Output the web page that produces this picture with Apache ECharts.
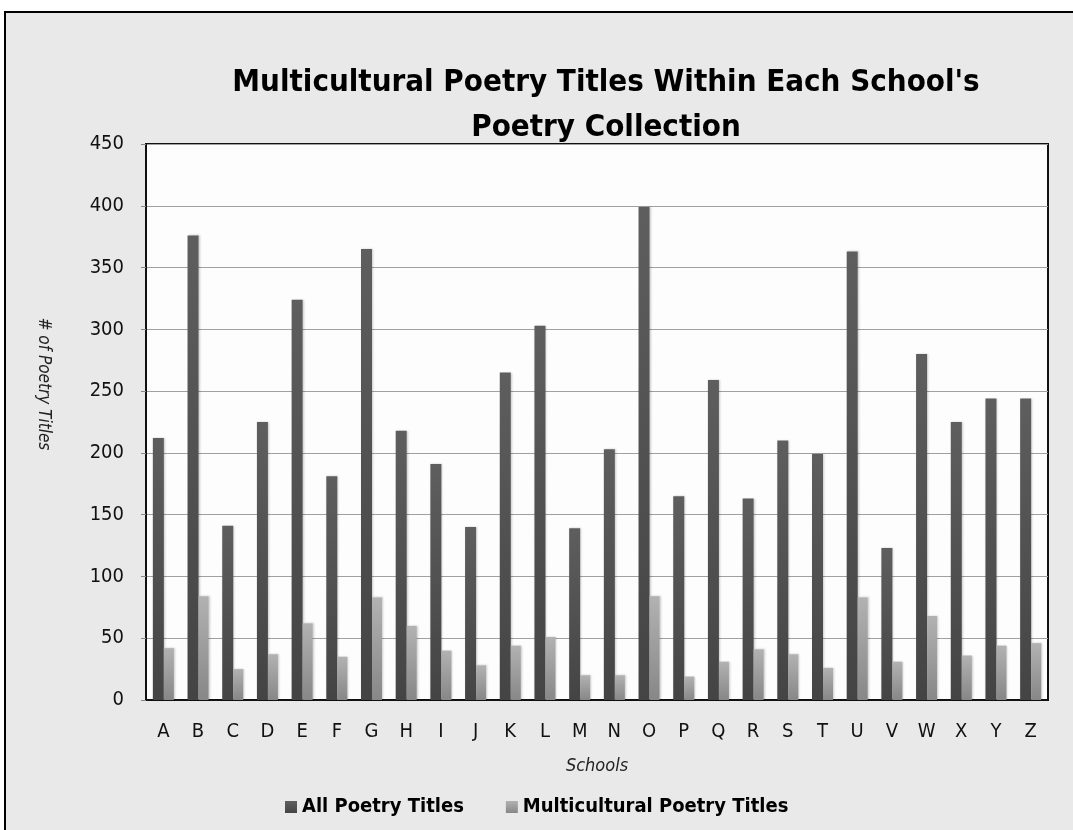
<!DOCTYPE html>
<html lang="en">
<head>
  <meta charset="UTF-8">
  <title>Multicultural Poetry Titles</title>
  <style>
    * { padding: 0; margin: 0; }
    html, body { width: 100%; height: 100%; background: #fff; }
    #chart { width: 1073px; height: 830px; }
  </style>
  <script src="https://cdn.jsdelivr.net/npm/echarts@6/dist/echarts.min.js"></script>
</head>
<body>
  <div id="chart"></div>
  <script>
    // values
    var schools = ['A','B','C','D','E','F','G','H','I','J','K','L','M','N','O','P','Q','R','S','T','U','V','W','X','Y','Z'];
    var allTitles = [212, 376, 141, 225, 324, 181, 365, 218, 191, 140, 265, 303, 139, 203, 399, 165, 259, 163, 210, 199, 363, 123, 280, 225, 244, 244];
    var multiTitles = [42, 84, 25, 37, 62, 35, 83, 60, 40, 28, 44, 51, 20, 20, 84, 19, 31, 41, 37, 26, 83, 31, 68, 36, 44, 46];
    var yTicks = { min: 0, max: 450, step: 50 };

    var font = '"Liberation Sans Narrow", "DejaVu Sans Condensed", Arial, sans-serif';

    function grad(top, bottom) {
      return new echarts.graphic.LinearGradient(0, 0, 0, 1, [
        { offset: 0, color: top },
        { offset: 1, color: bottom }
      ]);
    }

    var chart = echarts.init(document.getElementById('chart'));
    var option = {
      animation: false,
      textStyle: { fontFamily: font },
      graphic: [{
        type: 'rect',
        z: -10,
        shape: { x: 5, y: 12, width: 1100, height: 850 },
        style: { fill: '#e9e9e9', stroke: '#000', lineWidth: 2 }
      }],
      title: {
        text: "Multicultural Poetry Titles Within Each School's\nPoetry Collection",
        left: 601,
        textAlign: 'center',
        top: 55,
        textStyle: { fontFamily: font, fontSize: 31, fontWeight: 'bold', color: '#000', lineHeight: 45 }
      },
      legend: {
        left: 280,
        top: 792,
        itemWidth: 12,
        itemHeight: 12,
        itemGap: 42,
        icon: 'rect',
        textStyle: { fontFamily: font, fontSize: 20, fontWeight: 'bold', color: '#000' },
        data: ['All Poetry Titles', 'Multicultural Poetry Titles']
      },
      grid: {
        left: 146, top: 144, right: 25, bottom: 130,
        show: true,
        backgroundColor: '#fdfdfd',
        borderColor: '#111',
        borderWidth: 2
      },
      xAxis: {
        type: 'category',
        data: schools,
        name: 'Schools',
        nameLocation: 'middle',
        nameGap: 57,
        nameTextStyle: { fontFamily: font, fontSize: 18, fontStyle: 'italic', color: '#222' },
        axisLine: { lineStyle: { color: '#111', width: 2 } },
        axisTick: { length: 7, lineStyle: { color: '#888' } },
        axisLabel: { fontSize: 20, color: '#111', margin: 22 }
      },
      yAxis: {
        type: 'value',
        min: yTicks.min,
        max: yTicks.max,
        interval: yTicks.step,
        name: '# of Poetry Titles',
        nameLocation: 'middle',
        nameRotate: -90,
        nameGap: 94,
        // the name sits a little above the middle of the axis
        nameTextStyle: { fontFamily: font, fontSize: 17, fontStyle: 'italic', color: '#222', padding: [0, 76, 0, 0] },
        axisLine: { show: true, lineStyle: { color: '#111', width: 2 } },
        axisTick: { show: true, length: 5, lineStyle: { color: '#888' } },
        axisLabel: { fontSize: 20, color: '#111', margin: 22 },
        splitLine: { lineStyle: { color: '#a0a0a0' } }
      },
      series: [{
        name: 'All Poetry Titles',
        type: 'bar',
        data: allTitles,
        barWidth: 11,
        barGap: '0%',
        itemStyle: {
          color: grad('#5e5e5e', '#444444'),
          shadowBlur: 2,
          shadowOffsetX: 1,
          shadowColor: 'rgba(0,0,0,0.2)'
        }
      }, {
        name: 'Multicultural Poetry Titles',
        type: 'bar',
        data: multiTitles,
        barWidth: 10,
        barGap: '0%',
        itemStyle: {
          color: grad('#b2b2b2', '#878787'),
          shadowBlur: 2,
          shadowOffsetX: 1,
          shadowColor: 'rgba(0,0,0,0.2)'
        }
      }]
    };
    chart.setOption(option);
  </script>
</body>
</html>
